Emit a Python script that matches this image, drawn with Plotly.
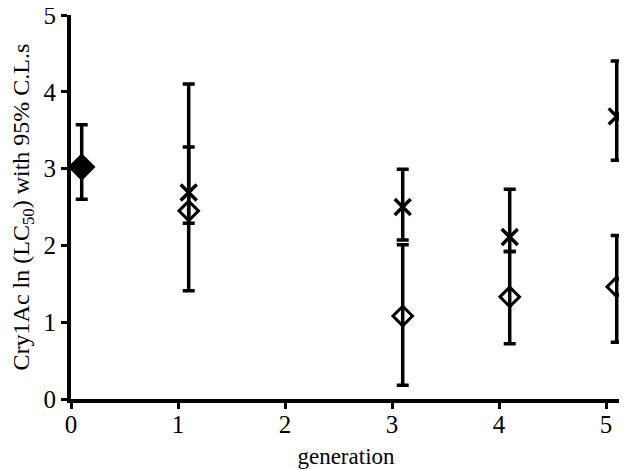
import plotly.graph_objects as go

# generation (plotted with small offset as in the original figure)
gen_cross = [1.1, 3.1, 4.1, 5.1]
cross_val = [2.69, 2.50, 2.11, 3.68]
cross_lo = [2.29, 2.07, 1.92, 3.11]
cross_hi = [4.10, 2.99, 2.73, 4.40]

gen_diam = [0.1, 1.1, 3.1, 4.1, 5.1]
diam_val = [3.02, 2.45, 1.08, 1.33, 1.46]
diam_lo = [2.60, 1.41, 0.18, 0.72, 0.74]
diam_hi = [3.57, 3.28, 2.01, 1.92, 2.13]
diam_symbols = ["diamond", "diamond-open", "diamond-open", "diamond-open", "diamond-open"]
diam_sizes = [18, 15, 15, 15, 15]

fig = go.Figure()

fig.add_trace(go.Scatter(
    x=gen_diam, y=diam_val, mode="markers", cliponaxis=False,
    marker=dict(symbol=diam_symbols, size=diam_sizes, color="black", opacity=1,
                line=dict(color="black", width=3)),
    error_y=dict(type="data", symmetric=False,
                 array=[h - v for h, v in zip(diam_hi, diam_val)],
                 arrayminus=[v - l for l, v in zip(diam_lo, diam_val)],
                 color="black", thickness=3.5, width=6),
    showlegend=False,
))

fig.add_trace(go.Scatter(
    x=gen_cross, y=cross_val, mode="markers", cliponaxis=False,
    marker=dict(symbol="x-thin-open", size=16, color="black",
                line=dict(color="black", width=3.5)),
    error_y=dict(type="data", symmetric=False,
                 array=[h - v for h, v in zip(cross_hi, cross_val)],
                 arrayminus=[v - l for l, v in zip(cross_lo, cross_val)],
                 color="black", thickness=3.5, width=6),
    showlegend=False,
))

axis_style = dict(
    showline=True, linecolor="black", linewidth=4,
    ticks="outside", ticklen=6, tickwidth=3, tickcolor="black",
    showgrid=False, zeroline=False, automargin=False,
    ticklabeloverflow="allow",
    tickfont=dict(family="Liberation Serif", size=25, color="black"),
)

fig.update_xaxes(range=[0, 5.14], tickvals=[0, 1, 2, 3, 4, 5],
                 ticklabelstandoff=-6,
                 title=dict(text="generation", standoff=14,
                            font=dict(family="Liberation Serif", size=23, color="black")),
                 **axis_style)
fig.update_yaxes(range=[0, 5], tickvals=[0, 1, 2, 3, 4, 5],
                 title=dict(text="Cry1Ac ln (LC<sub>50</sub>) with 95% C.L.s", standoff=30,
                            font=dict(family="Liberation Serif", size=24, color="black")),
                 **axis_style)

# page body adds an 8px offset, so the figure is a bit smaller than the window
fig.update_layout(
    width=619, height=461,
    margin=dict(l=63, r=6, t=7, b=70),
    plot_bgcolor="white", paper_bgcolor="white",
)

fig.write_html("out.html")
